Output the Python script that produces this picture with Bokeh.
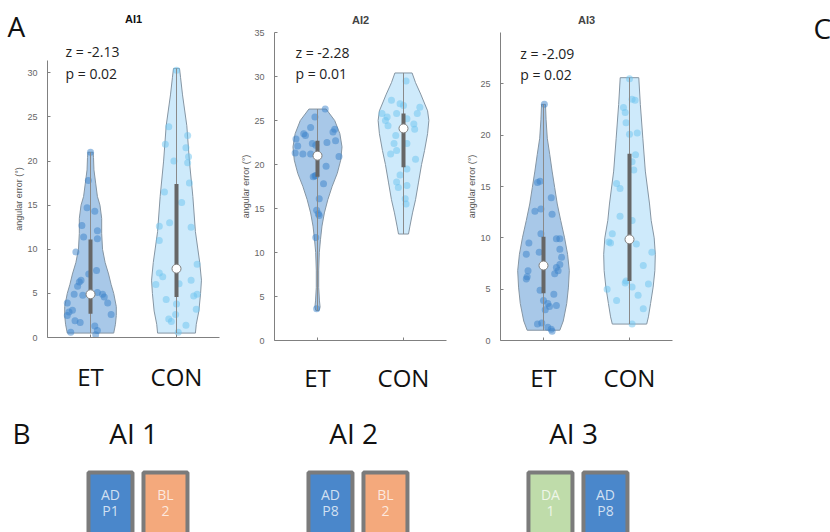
from bokeh.plotting import figure
from bokeh.layouts import column, row
from bokeh.models import Range1d, FixedTicker
from bokeh.core.properties import value
from bokeh.embed import file_html
from bokeh.resources import INLINE

# ---------------- data ----------------
groups = ["ET", "CON"]
titles = ["AI1", "AI2", "AI3"]
z_vals = ["-2.13", "-2.28", "-2.09"]
p_vals = ["0.02", "0.01", "0.02"]

# scatter points (angular error) and horizontal jitter
ai1_et_y = [21.0, 17.8, 14.7, 14.3, 12.7, 12.1, 11.4, 11.2, 9.7, 7.6, 7.2, 6.5, 6.3, 5.8, 4.9, 4.8,
            5.1, 4.9, 4.6, 3.9, 3.9, 3.1, 2.9, 2.6, 2.5, 1.9, 1.7, 1.3, 0.8, 0.6, 0.3]
ai1_et_j = [0, -0.025, -0.04, 0.05, -0.1, 0.08, -0.08, 0.08, -0.17, 0.07, -0.02, -0.11, -0.13, -0.15,
            -0.19, -0.09, 0.08, 0.14, 0.16, -0.27, 0.2, -0.21, -0.25, 0.24, -0.27, -0.18, -0.12, 0.05,
            0.08, -0.23, 0.06]
ai1_con_y = [30.3, 23.9, 22.9, 21.9, 21.5, 20.5, 20.0, 19.8, 17.5, 16.5, 15.3, 13.0, 12.6, 12.5, 11.0,
             8.3, 7.3, 6.9, 6.5, 6.1, 6.0, 4.9, 4.7, 4.3, 3.8, 3.2, 2.6, 2.1, 1.8, 1.4, 0.6]
ai1_con_j = [0, -0.09, 0.13, -0.13, 0.11, 0.14, -0.03, 0.13, 0.15, -0.14, 0.06, -0.08, -0.2, 0.17,
             -0.2, 0.24, -0.2, -0.16, 0.17, 0.03, -0.24, 0.24, 0.2, -0.12, 0.0, 0.23, -0.01, -0.09,
             -0.06, 0.11, 0.02]
ai2_et_y = [26.3, 25.4, 24.2, 24.0, 23.7, 23.5, 22.9, 23.3, 22.5, 22.7, 22.4, 22.2, 22.1, 21.3, 21.2,
            20.9, 21.2, 19.8, 18.75, 18.6, 18.7, 17.8, 16.1, 14.8, 14.2, 14.4, 11.7, 3.6]
ai2_et_j = [0.09, -0.03, -0.08, 0.2, 0.18, -0.16, -0.25, -0.14, 0.11, 0.21, -0.06, -0.02, -0.23,
            -0.26, -0.17, 0.25, -0.08, 0.1, -0.02, -0.05, -0.03, 0.07, 0.02, -0.01, 0.02, 0.01,
            -0.02, -0.01]
ai2_con_y = [29.5, 27.3, 26.9, 26.7, 26.5, 25.8, 25.4, 25.8, 25.8, 25.0, 24.4, 25.2, 24.6, 24.0, 23.3,
             22.4, 22.4, 20.6, 21.2, 21.6, 19.5, 18.8, 18.0, 17.4, 17.6, 16.1, 15.5]
ai2_con_j = [0.03, -0.14, -0.04, 0.0, 0.19, -0.25, -0.19, 0.16, -0.08, -0.21, -0.18, 0.04, 0.12,
             0.13, -0.09, -0.11, 0.04, 0.14, -0.15, -0.08, 0.04, -0.04, -0.08, -0.06, 0.04, 0.02,
             0.03]
ai3_et_y = [23.0, 15.4, 15.5, 13.9, 12.6, 12.8, 12.3, 10.4, 9.9, 9.9, 9.5, 8.9, 8.4, 8.6, 8.1, 7.4,
            7.1, 6.8, 6.5, 6.8, 6.2, 6.0, 4.9, 4.5, 3.9, 3.6, 3.3, 3.0, 3.4, 1.7, 1.6, 1.3, 1.1, 0.9]
ai3_et_j = [0.01, -0.07, -0.04, 0.09, -0.1, -0.03, 0.1, -0.03, 0.15, 0.19, -0.17, 0.19, -0.2, -0.05,
            0.21, 0.19, 0.15, 0.17, 0.13, -0.18, -0.19, -0.2, -0.04, 0.12, 0.0, 0.05, 0.07, 0.02,
            0.15, -0.02, -0.07, 0.05, 0.09, 0.1]
ai3_con_y = [25.5, 23.5, 23.4, 22.7, 22.2, 21.2, 20.2, 20.1, 18.1, 17.4, 16.6, 15.3, 14.8, 12.1, 11.7,
             10.4, 9.5, 9.6, 9.4, 8.6, 7.3, 5.8, 5.6, 5.2, 5.0, 5.5, 4.4, 3.9, 3.1, 1.6]
ai3_con_j = [0.0, 0.03, 0.065, -0.07, -0.05, -0.04, 0.09, 0.0, 0.07, 0.03, 0.05, -0.15, -0.11, -0.11,
             0.03, -0.2, -0.22, -0.24, 0.08, 0.26, 0.16, -0.04, -0.05, 0.03, -0.26, 0.22, 0.1,
             -0.15, 0.16, 0.03]

# violin outlines: angular error levels and half-width (density)
ai1_et_vy = [0.5, 1.5, 2.5, 3.5, 5, 6, 7.2, 8.5, 10, 11.8, 13.5, 15, 16, 17.5, 19, 20.4, 21]
ai1_et_vw = [0.27, 0.29, 0.30, 0.30, 0.27, 0.24, 0.21, 0.17, 0.14, 0.13, 0.13, 0.11, 0.08, 0.06,
             0.04, 0.035, 0.03]
ai1_con_vy = [0.5, 1.5, 3, 5, 6.5, 8.5, 12, 16, 20, 24, 27.5, 29.5, 30.5]
ai1_con_vw = [0.22, 0.23, 0.26, 0.28, 0.29, 0.27, 0.22, 0.19, 0.15, 0.12, 0.07, 0.047, 0.035]
ai2_et_vy = [3.4, 3.8, 4.5, 6, 8, 10, 11.5, 13, 14.5, 16, 17.5, 19, 20.5, 22, 23.5, 25, 26.3]
ai2_et_vw = [0.018, 0.03, 0.023, 0.014, 0.014, 0.021, 0.035, 0.052, 0.08, 0.12, 0.17, 0.23, 0.27,
             0.285, 0.26, 0.2, 0.1]
ai2_con_vy = [12.1, 13, 14.5, 16, 18, 20, 21.6, 23.5, 25, 26.1, 28, 29.3, 30.4]
ai2_con_vw = [0.058, 0.075, 0.105, 0.14, 0.175, 0.21, 0.245, 0.28, 0.295, 0.28, 0.2, 0.14, 0.1]
ai3_et_vy = [1.0, 1.9, 3.6, 5.2, 6.8, 8.4, 10, 11.7, 13.3, 14.9, 16.5, 18.1, 19.7, 21.5, 23.0]
ai3_et_vw = [0.19, 0.23, 0.27, 0.29, 0.3, 0.28, 0.245, 0.2, 0.16, 0.13, 0.1, 0.073, 0.044, 0.03,
             0.023]
ai3_con_vy = [1.6, 2.3, 3.6, 5.2, 6.8, 8.4, 10, 11.7, 13.3, 16.5, 19.7, 23, 25.6]
ai3_con_vw = [0.2, 0.22, 0.245, 0.275, 0.295, 0.3, 0.287, 0.252, 0.233, 0.184, 0.155, 0.126, 0.108]

# quartiles: (q1, median, q3)
ai1_et_q = [2.7, 4.9, 11.1]
ai1_con_q = [4.6, 7.8, 17.4]
ai2_et_q = [18.6, 21.0, 22.7]
ai2_con_q = [19.7, 24.1, 25.8]
ai3_et_q = [4.6, 7.3, 10.1]
ai3_con_q = [5.8, 9.85, 18.2]

y_limits = [(0, 31.4), (0, 35), (0, 30)]
y_ticks = [[0, 5, 10, 15, 20, 25, 30], [0, 5, 10, 15, 20, 25, 30, 35], [0, 5, 10, 15, 20, 25]]

# panel B
b_groups = ["AI 1", "AI 2", "AI 3"]
box_group = [0, 0, 1, 1, 2, 2]
box_slot = [-1, 1, -1, 1, -1, 1]
box_top_txt = ["AD", "BL", "AD", "BL", "DA", "AD"]
box_bot_txt = ["P1", "2", "P8", "2", "1", "P8"]
box_colors = ["#4a87cb", "#f4a97c", "#4a87cb", "#f4a97c", "#bfdcaa", "#4a87cb"]

# ---------------- styling ----------------
ET_FILL, CON_FILL = "#3a82ca", "#8fd0f5"
ET_DOT, CON_DOT = "#3a82ca", "#6cc3f0"
SANS_S = "Open Sans"
ARIAL_S = "Liberation Sans"
SANS = value(SANS_S)
ARIAL = value(ARIAL_S)


def plain(fig):
    fig.axis.visible = False
    fig.grid.visible = False
    fig.outline_line_color = None
    fig.background_fill_color = None
    fig.border_fill_color = None
    return fig


panel_sets = [
    [(ai1_et_y, ai1_et_j, ai1_et_vy, ai1_et_vw, ai1_et_q),
     (ai1_con_y, ai1_con_j, ai1_con_vy, ai1_con_vw, ai1_con_q)],
    [(ai2_et_y, ai2_et_j, ai2_et_vy, ai2_et_vw, ai2_et_q),
     (ai2_con_y, ai2_con_j, ai2_con_vy, ai2_con_vw, ai2_con_q)],
    [(ai3_et_y, ai3_et_j, ai3_et_vy, ai3_et_vw, ai3_et_q),
     (ai3_con_y, ai3_con_j, ai3_con_vy, ai3_con_vw, ai3_con_q)],
]
# figure geometry: width, height, border left/right/top/bottom, x-label standoff
geom = [(236, 338, 47, 17, 0, 61, 22), (226, 398, 38, 16, 32, 58, 20),
        (218, 398, 38, 8, 32, 58, 20)]
text_pos = [(0.71, None, 29.9), (0.744, 32.7, 30.3), (0.73, 28.0, 25.9)]

figs = []
for k in range(3):
    w, h, bl, br, bt, bb, xs_off = geom[k]
    kw = dict(title=titles[k]) if k > 0 else {}
    p = figure(width=w, height=h, x_range=Range1d(0.5, 2.5),
               y_range=Range1d(*y_limits[k]), output_backend="svg", toolbar_location=None,
               min_border_left=bl, min_border_right=br,
               min_border_top=bt, min_border_bottom=bb, **kw)
    if k > 0:
        p.title.align = "center"
        p.title.text_font = ARIAL_S
        p.title.text_font_size = "11px"
        p.title.text_font_style = "bold"
        p.title.standoff = 14
    p.outline_line_color = None
    p.grid.visible = False
    p.background_fill_color = None
    p.border_fill_color = None

    for gi, (fill, dot) in enumerate([(ET_FILL, ET_DOT), (CON_FILL, CON_DOT)]):
        ys, js, vy, vw, q = panel_sets[k][gi]
        xc = gi + 1
        xs = [xc + ww for ww in vw] + [xc - ww for ww in reversed(vw)]
        yy = list(vy) + list(reversed(vy))
        p.patch(xs, yy, fill_color=fill, fill_alpha=0.44, line_color="#8595a3", line_width=1)
        p.scatter([xc + j for j in js], ys, size=7, fill_color=dot, fill_alpha=0.5, line_color=None)
        p.segment(x0=[xc], y0=[vy[0]], x1=[xc], y1=[vy[-1]], line_color="#8a8a8a", line_width=1)
        p.segment(x0=[xc], y0=[q[0]], x1=[xc], y1=[q[2]], line_color="#666666", line_width=4)
        p.scatter([xc], [q[1]], size=9, fill_color="white", line_color="#808080", line_width=1)

    tx, zy, py = text_pos[k]
    if zy is not None:
        p.text(x=[tx], y=[zy], text=["z = " + z_vals[k]], text_font=SANS, text_font_size="14px",
               text_color="#222222", text_baseline="middle", text_align="left")
    p.text(x=[tx], y=[py], text=["p = " + p_vals[k]], text_font=SANS, text_font_size="14px",
           text_color="#222222", text_baseline="middle", text_align="left")

    p.xaxis.ticker = FixedTicker(ticks=[1, 2])
    p.xaxis.major_label_overrides = {1: groups[0], 2: groups[1]}
    p.xaxis.major_label_text_font = SANS_S
    p.xaxis.major_label_text_font_size = "24px"
    p.xaxis.major_label_text_color = "#111111"
    p.xaxis.major_label_standoff = xs_off
    p.xaxis.major_tick_in = 3
    p.xaxis.major_tick_out = 0
    p.xaxis.minor_tick_line_color = None
    p.xaxis.axis_line_color = "#808080"
    p.xaxis.major_tick_line_color = "#808080"

    p.yaxis.ticker = FixedTicker(ticks=y_ticks[k])
    p.yaxis.axis_label = "angular error (°)"
    p.yaxis.axis_label_text_font = ARIAL_S
    p.yaxis.axis_label_text_font_size = "9px"
    p.yaxis.axis_label_text_font_style = "normal"
    p.yaxis.axis_label_text_color = "#555555"
    p.yaxis.axis_label_standoff = 0
    p.yaxis.major_label_text_font = ARIAL_S
    p.yaxis.major_label_text_font_size = "9px"
    p.yaxis.major_label_text_color = "#666666"
    p.yaxis.major_label_standoff = 10
    p.yaxis.major_tick_in = 3
    p.yaxis.major_tick_out = 0
    p.yaxis.minor_tick_line_color = None
    p.yaxis.axis_line_color = "#808080"
    p.yaxis.major_tick_line_color = "#808080"
    figs.append(p)

# strip above panel 1: panel letter, title and z statistic
strip = plain(figure(width=236, height=60, x_range=Range1d(0, 236), y_range=Range1d(60, 0),
                     output_backend="svg", toolbar_location=None, min_border=0))
strip.text(x=[7], y=[25], text=["A"], text_font=SANS, text_font_size="28px",
           text_color="#111111", text_align="left", text_baseline="middle")
strip.text(x=[133], y=[18], text=[titles[0]], text_font=ARIAL, text_font_size="11px",
           text_font_style="bold", text_color="#111111", text_align="center", text_baseline="middle")
strip.text(x=[65], y=[51], text=["z = " + z_vals[0]], text_font=SANS, text_font_size="14px",
           text_color="#222222", text_align="left", text_baseline="middle")

# right column with panel letter C
figc = plain(figure(width=150, height=398, x_range=Range1d(0, 150), y_range=Range1d(398, 0),
                    output_backend="svg", toolbar_location=None, min_border=0))
figc.text(x=[133], y=[27], text=["C"], text_font=SANS, text_font_size="28px",
          text_color="#111111", text_align="left", text_baseline="middle")

# ---------------- panel B ----------------
pb = plain(figure(width=830, height=134, x_range=Range1d(-0.625, 3.148), y_range=Range1d(134, 0),
                  output_backend="svg", toolbar_location=None, min_border=0))
bx = [g + s * 0.125 for g, s in zip(box_group, box_slot)]
pb.quad(left=[x - 0.1 for x in bx], right=[x + 0.1 for x in bx],
        top=[74] * len(bx), bottom=[145] * len(bx),
        fill_color=box_colors, line_color="#7b7b7b", line_width=4)
pb.text(x=bx, y=[96] * len(bx), text=box_top_txt, text_font=SANS, text_font_size="14px",
        text_color="white", text_alpha=0.75, text_align="center", text_baseline="middle")
pb.text(x=bx, y=[112] * len(bx), text=box_bot_txt, text_font=SANS, text_font_size="14px",
        text_color="white", text_alpha=0.75, text_align="center", text_baseline="middle")
pb.text(x=[g - 0.02 for g in range(3)], y=[34] * 3, text=b_groups, text_font=SANS,
        text_font_size="28px", text_color="#111111", text_align="center", text_baseline="middle")
pb.text(x=[-0.57], y=[34], text=["B"], text_font=SANS, text_font_size="28px",
        text_color="#111111", text_align="left", text_baseline="middle")

col1 = column(row(strip), figs[0])
layout = column(row(col1, figs[1], figs[2], column(figc)), pb)
open("out.html", "w").write(file_html(layout, INLINE))
